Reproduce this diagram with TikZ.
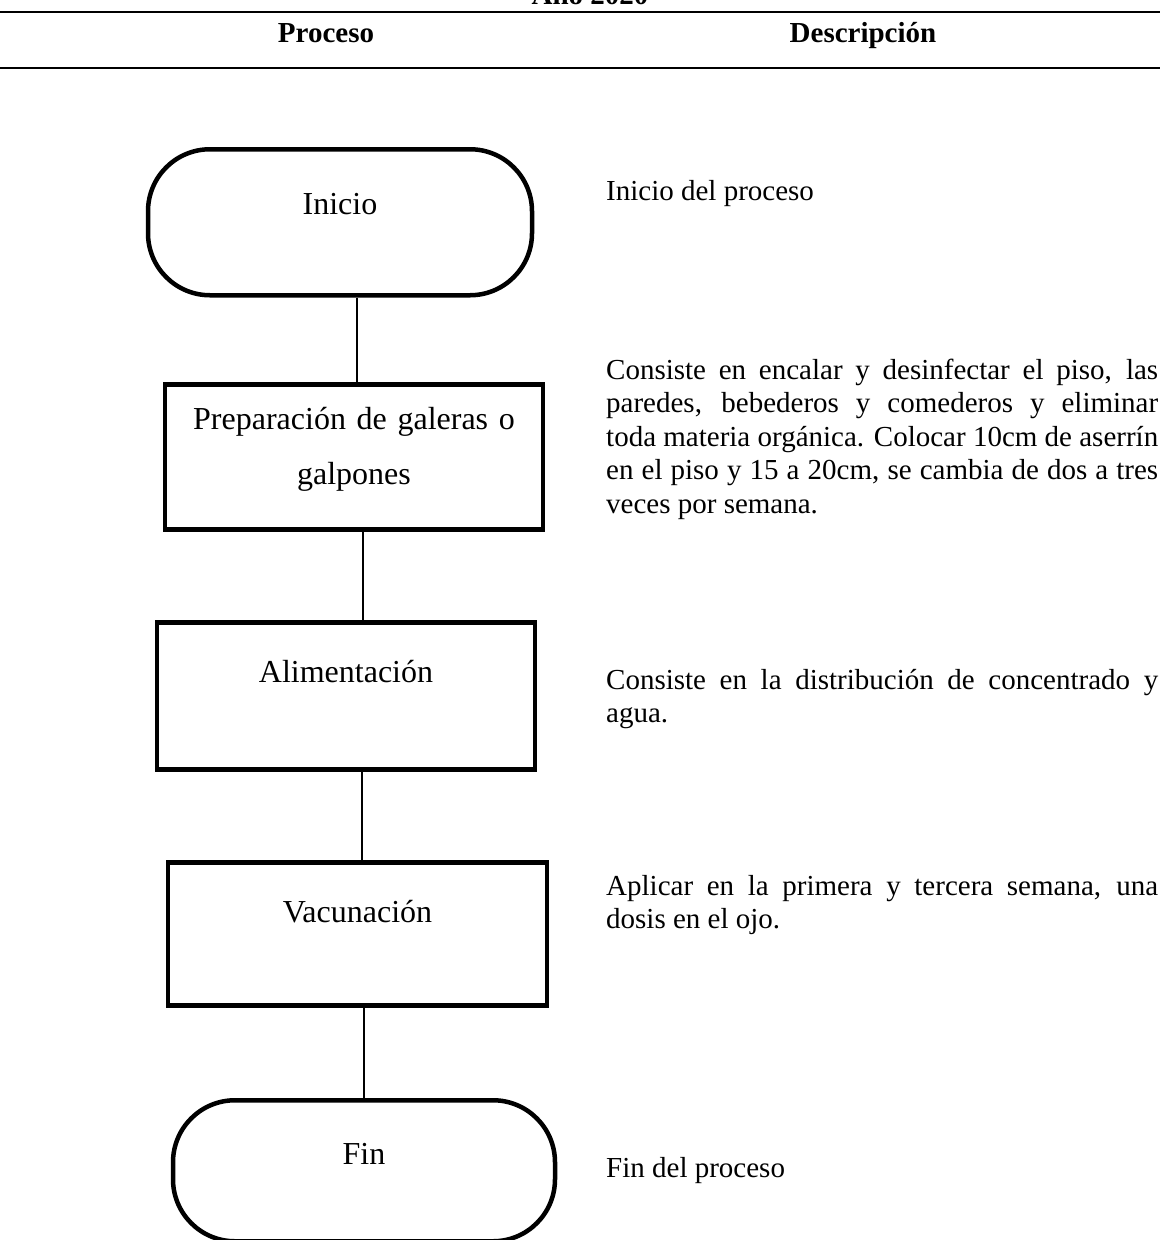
\documentclass[tikz,border=0pt]{standalone}
\usepackage{fontspec}
\setmainfont{Liberation Serif}
\usetikzlibrary{calc}

\begin{document}
\begin{tikzpicture}[x=1pt,y=-1pt,
 term/.style={draw, line width=4.5pt, rounded corners=62pt, minimum width=384pt, inner sep=0pt, anchor=north, font=\fontsize{32}{38}\selectfont},
 proc/.style={draw, line width=4.5pt, minimum width=378pt, inner sep=0pt, anchor=north, font=\fontsize{32}{55}\selectfont},
 desc/.style={anchor=base west, inner sep=0pt, text width=552pt, align=justify, font=\fontsize{29}{33.5}\selectfont},
 head/.style={anchor=base, inner sep=0pt, font=\fontsize{29}{33}\selectfont\bfseries},
 link/.style={line width=2pt}]
\useasboundingbox (0,0) rectangle (1160,1240);
\clip (0,0) rectangle (1160,1240);
% encabezado
\node[head] (anio) at (590,4) {Año 2020};
\draw[line width=2pt] (0,12)--(1160,12);
\node[head] (hproc) at (326,42) {Proceso};
\node[head] (hdesc) at (863,42) {Descripción};
\draw[line width=2pt] (0,68)--(1160,68);
% diagrama
\node[term, text height=65pt, text depth=81pt] (inicio) at (340,147) {Inicio};
\node[proc, text height=45pt, text depth=100pt, text width=370pt, align=center] (prep) at (354,382) {Preparación de galeras o\\ galpones};
\node[proc, text height=60pt, text depth=87pt] (alim) at (346,620) {Alimentación};
\node[proc, text height=60pt, text depth=83pt, minimum width=379pt] (vac) at (357.5,860) {Vacunación};
\node[term, text height=64pt, text depth=77pt, minimum width=382pt] (fin) at (364,1098) {Fin};
\draw[link] ([xshift=17pt]inicio.south) -- ([xshift=17pt]inicio.south |- prep.north);
\draw[link] ([xshift=9pt]prep.south) -- ([xshift=9pt]prep.south |- alim.north);
\draw[link] ([xshift=4.5pt]vac.north |- alim.south) -- ([xshift=4.5pt]vac.north);
\draw[link] (vac.south -| fin.north) -- (fin.north);
% descripciones
\node[desc] (dinicio) at (606,200) {Inicio del proceso};
\node[desc] (dprep) at (606,379) {Consiste en encalar y desinfectar el piso, las\linebreak paredes, bebederos y comederos y eliminar\linebreak toda materia orgánica. Colocar 10cm de aserrín\linebreak en el piso y 15 a 20cm, se cambia de dos a tres\linebreak veces por semana.};
\node[desc] (dalim) at (606,689) {Consiste en la distribución de concentrado y\linebreak agua.};
\node[desc] (dvac) at (606,895) {Aplicar en la primera y tercera semana, una\linebreak dosis en el ojo.};
\node[desc] (dfin) at (606,1177) {Fin del proceso};
\end{tikzpicture}
\end{document}
